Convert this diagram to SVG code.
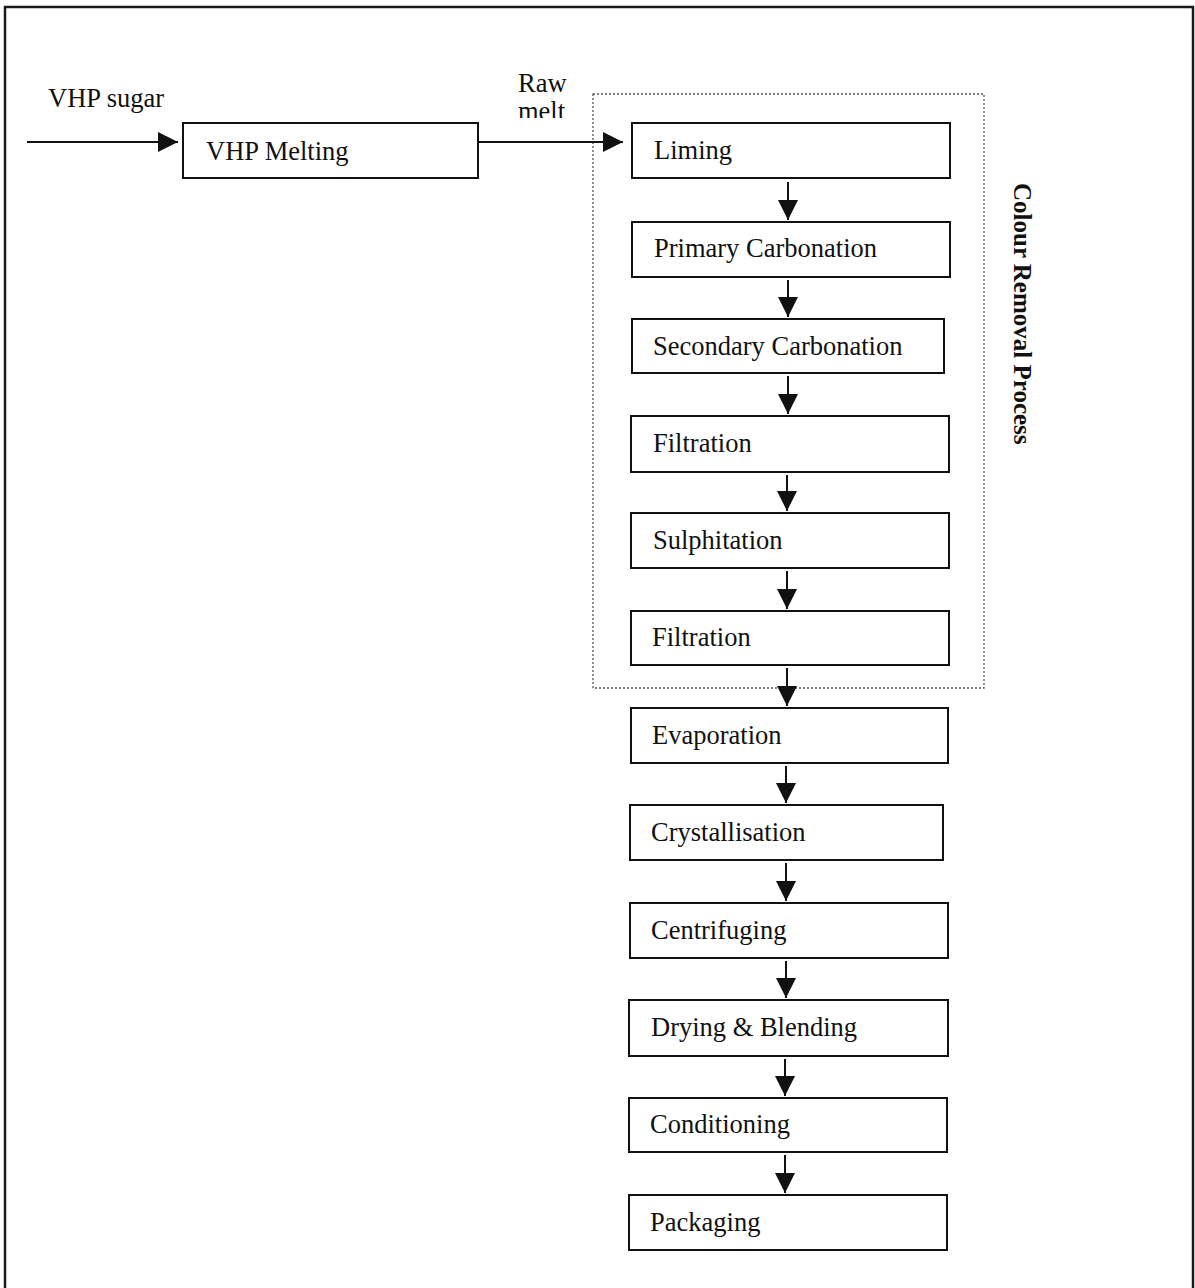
<svg xmlns="http://www.w3.org/2000/svg" width="1195" height="1288" viewBox="0 0 1195 1288">
  <defs>
    <style>
      .frame { fill: none; stroke: #1a1a1a; stroke-width: 2.5; }
      .group-box { fill: none; stroke: #555; stroke-width: 1.3; stroke-dasharray: 2 2; }
      .box { fill: #fff; stroke: #111; stroke-width: 2; }
      .label { font-family: "Liberation Serif", "Times New Roman", serif; font-size: 26.5px; fill: #111; }
      .title { font-family: "Liberation Serif", "Times New Roman", serif; font-size: 25px; font-weight: bold; fill: #111; }
      .edge { stroke: #111; stroke-width: 2; fill: none; marker-end: url(#head); }
    </style>
    <marker id="head" viewBox="0 0 20 20" refX="20" refY="10" markerWidth="20" markerHeight="20" markerUnits="userSpaceOnUse" orient="auto">
      <path d="M0,0 L20,10 L0,20 z" fill="#111"/>
    </marker>
    <clipPath id="meltClip">
      <rect x="500" y="95" width="100" height="23"/>
    </clipPath>
  </defs>

  <rect width="1195" height="1288" fill="#fff"/>
  <!-- page frame -->
  <rect class="frame" x="5" y="7" width="1188" height="1300"/>

  <!-- colour removal section boundary -->
  <rect class="group-box" x="593" y="94" width="391" height="594"/>
  <text class="title" transform="translate(1014,183) rotate(90)">Colour Removal Process</text>

  <!-- stream labels -->
  <text class="label" x="48" y="107">VHP sugar</text>
  <text class="label" x="518" y="92">Raw</text>
  <text class="label" x="518" y="120" clip-path="url(#meltClip)">melt</text>

  <!-- connectors -->
  <g id="connectors">
    <line class="edge" x1="27" y1="142" x2="178" y2="142"/>
    <line class="edge" x1="478" y1="142" x2="623" y2="142"/>
    <line class="edge" x1="788" y1="182" x2="788" y2="220"/>
    <line class="edge" x1="788" y1="280" x2="788" y2="317"/>
    <line class="edge" x1="788" y1="376" x2="788" y2="414"/>
    <line class="edge" x1="787" y1="475" x2="787" y2="511"/>
    <line class="edge" x1="787" y1="571" x2="787" y2="609"/>
    <line class="edge" x1="787" y1="668" x2="787" y2="706"/>
    <line class="edge" x1="786" y1="766" x2="786" y2="803"/>
    <line class="edge" x1="786" y1="863" x2="786" y2="901"/>
    <line class="edge" x1="786" y1="961" x2="786" y2="998"/>
    <line class="edge" x1="785" y1="1059" x2="785" y2="1096"/>
    <line class="edge" x1="785" y1="1155" x2="785" y2="1193"/>
  </g>

  <!-- process steps -->
  <g id="vhp-melting">
    <rect class="box" x="183" y="123" width="295" height="55"/>
    <text class="label" x="206" y="160">VHP Melting</text>
  </g>
  <g id="liming">
    <rect class="box" x="632" y="123" width="318" height="55"/>
    <text class="label" x="654" y="159">Liming</text>
  </g>
  <g id="primary-carbonation">
    <rect class="box" x="632" y="222" width="318" height="55"/>
    <text class="label" x="654" y="257">Primary Carbonation</text>
  </g>
  <g id="secondary-carbonation">
    <rect class="box" x="632" y="319" width="312" height="54"/>
    <text class="label" x="653" y="355">Secondary Carbonation</text>
  </g>
  <g id="filtration-1">
    <rect class="box" x="631" y="416" width="318" height="56"/>
    <text class="label" x="653" y="452">Filtration</text>
  </g>
  <g id="sulphitation">
    <rect class="box" x="631" y="513" width="318" height="55"/>
    <text class="label" x="653" y="549">Sulphitation</text>
  </g>
  <g id="filtration-2">
    <rect class="box" x="631" y="611" width="318" height="54"/>
    <text class="label" x="652" y="646">Filtration</text>
  </g>
  <g id="evaporation">
    <rect class="box" x="631" y="708" width="317" height="55"/>
    <text class="label" x="652" y="744">Evaporation</text>
  </g>
  <g id="crystallisation">
    <rect class="box" x="630" y="805" width="313" height="55"/>
    <text class="label" x="651" y="841">Crystallisation</text>
  </g>
  <g id="centrifuging">
    <rect class="box" x="630" y="903" width="318" height="55"/>
    <text class="label" x="651" y="939">Centrifuging</text>
  </g>
  <g id="drying-blending">
    <rect class="box" x="629" y="1000" width="319" height="56"/>
    <text class="label" x="651" y="1036">Drying &amp; Blending</text>
  </g>
  <g id="conditioning">
    <rect class="box" x="629" y="1098" width="318" height="54"/>
    <text class="label" x="650" y="1133">Conditioning</text>
  </g>
  <g id="packaging">
    <rect class="box" x="629" y="1195" width="318" height="55"/>
    <text class="label" x="650" y="1231">Packaging</text>
  </g>
</svg>
